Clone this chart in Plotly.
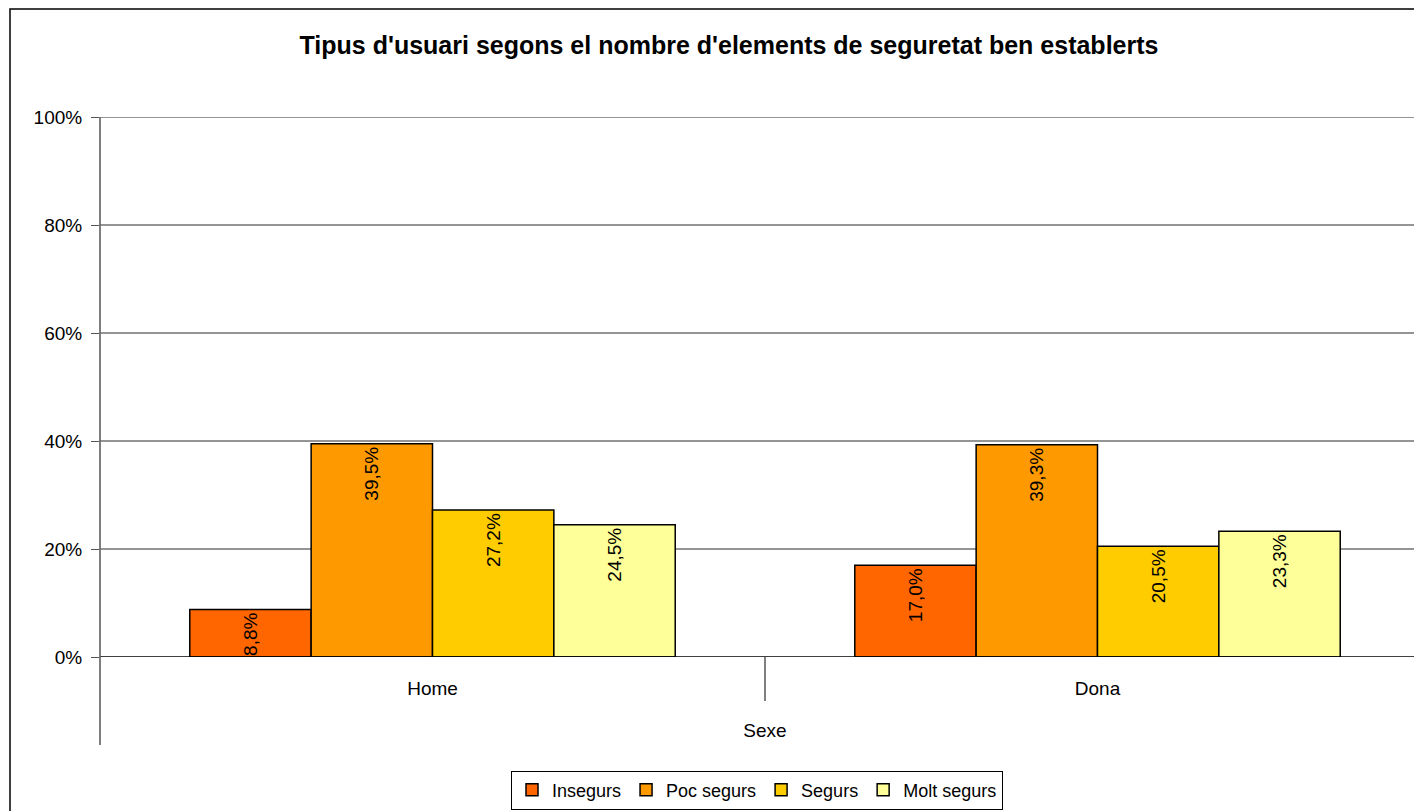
import plotly.graph_objects as go

categories = ["Home", "Dona"]
series_names = ["Insegurs", "Poc segurs", "Segurs", "Molt segurs"]
insegurs = [8.8, 17.0]
poc_segurs = [39.5, 39.3]
segurs = [27.2, 20.5]
molt_segurs = [24.5, 23.3]
colors = ["#FF6600", "#FF9900", "#FFCC00", "#FFFF99"]
y_ticks = [0, 20, 40, 60, 80, 100]
y_tick_text = ["0%", "20%", "40%", "60%", "80%", "100%"]

FONT = "Liberation Sans, Arial, sans-serif"
OFF = 8  # page body margin offset
W, H = 1422, 811
L, T = 100 - OFF, 117 - OFF
B = H - (657 - OFF)
R = 0
pw = W - L - R
ph = H - T - B

def fx(sx):  # screen px -> paper x
    return (sx - OFF - L) / pw

def fy(sy):  # screen px -> paper y
    return (H - B - (sy - OFF)) / ph

fig = go.Figure()
for name, vals, col in zip(series_names, [insegurs, poc_segurs, segurs, molt_segurs], colors):
    fig.add_trace(go.Bar(
        name=name, x=categories, y=vals,
        marker=dict(color=col, line=dict(color="black", width=1.5)),
        texttemplate="%{y:.1f}%", textposition="inside", insidetextanchor="end",
        textangle=-90, constraintext="none",
        textfont=dict(family=FONT, size=19, color="black"),
        cliponaxis=False,
    ))

cat_px = 665.0
xr_width = pw / cat_px

fig.update_layout(
    width=W, height=H,
    margin=dict(l=L, r=R, t=T, b=B),
    paper_bgcolor="white", plot_bgcolor="white",
    barmode="group", bargap=0.27, bargroupgap=0,
    separators=",.",
    font=dict(family=FONT, size=19, color="black"),
    title=dict(text="<b>Tipus d'usuari segons el nombre d'elements de seguretat ben establerts</b>",
               x=(729 - OFF) / W, xanchor="center", xref="container",
               y=1 - (45 - OFF) / H, yanchor="middle", yref="container",
               font=dict(family=FONT, size=25, color="black")),
    xaxis=dict(range=[-0.5, -0.5 + xr_width], showgrid=False, showline=False, ticks="",
               tickfont=dict(size=19), ticklabelstandoff=18,
               title=dict(text="Sexe", font=dict(size=19), standoff=25)),
    yaxis=dict(range=[0, 100], tickvals=y_ticks, ticktext=y_tick_text, showgrid=False,
               zeroline=False, showline=False,
               ticks="outside", ticklen=8, tickcolor="#555555", tickwidth=1,
               ticklabelstandoff=5,
               tickfont=dict(size=19)),
    legend=dict(orientation="h", x=(757 - OFF) / W, xref="container", xanchor="center",
                y=1 - (790 - OFF) / H, yref="container", yanchor="middle",
                bordercolor="black", borderwidth=1, bgcolor="white",
                font=dict(size=18), itemwidth=30, tracegroupgap=0),
    showlegend=True,
)

shapes = []
# outer chart border (top edge kept just inside the figure; extends beyond right/bottom)
shapes.append(dict(type="rect", xref="paper", yref="paper",
                   x0=fx(10), x1=fx(1460), y0=fy(900), y1=fy(OFF + 1),
                   line=dict(color="black", width=1.5), layer="below"))
# horizontal gridlines
for v in y_ticks[1:]:
    shapes.append(dict(type="line", xref="paper", yref="y", x0=0, x1=1, y0=v, y1=v,
                       line=dict(color="#2a2a2a", width=1), layer="below"))
# zero line / x axis line
shapes.append(dict(type="line", xref="paper", yref="y", x0=0, x1=1, y0=0, y1=0,
                   line=dict(color="black", width=1.5), layer="above"))
# y axis line extended downwards
shapes.append(dict(type="line", xref="paper", yref="paper", x0=0, x1=0,
                   y0=fy(745), y1=1, line=dict(color="#555555", width=1.5)))
# category divider
shapes.append(dict(type="line", xref="x", yref="paper", x0=0.5, x1=0.5,
                   y0=fy(701), y1=0, line=dict(color="black", width=1)))
fig.update_layout(shapes=shapes)

fig.write_html("out.html")
